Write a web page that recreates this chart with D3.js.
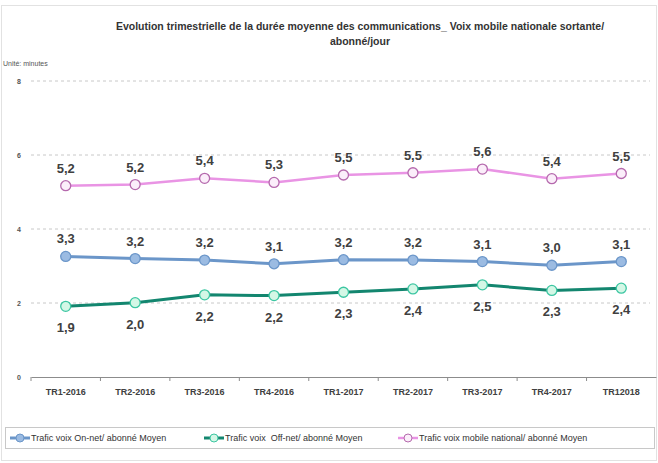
<!doctype html>
<html lang="fr">
<head>
<meta charset="utf-8">
<title>Durée moyenne des communications</title>
<style>
  body { margin: 0; background: #fff; font-family: "Liberation Sans", Arial, sans-serif; }
  .grid line { stroke: #c8c8c8; stroke-dasharray: 3,3; }
  .lbl { font-weight: bold; font-size: 13px; fill: #404040; text-anchor: middle; }
  text { white-space: pre; }
</style>
</head>
<body>
<svg id="chart" width="658" height="463"></svg>
<script src="https://d3js.org/d3.v7.min.js"></script>
<script>
var quarters = ["TR1-2016", "TR2-2016", "TR3-2016", "TR4-2016", "TR1-2017", "TR2-2017", "TR3-2017", "TR4-2017", "TR12018"];
var onNet    = [3.26, 3.20, 3.16, 3.06, 3.17, 3.16, 3.12, 3.02, 3.12];
var offNet   = [1.91, 2.01, 2.22, 2.20, 2.29, 2.38, 2.49, 2.34, 2.40];
var national = [5.17, 5.20, 5.37, 5.26, 5.46, 5.52, 5.62, 5.36, 5.50];
var yTicks   = [0, 2, 4, 6, 8];

var series = [
  { name: "Trafic voix On-net/ abonné Moyen", values: onNet, line: "#6b96c9", fill: "#9bbbe2", stroke: "#6b96c9", width: 3, pos: "above" },
  { name: "Trafic voix  Off-net/ abonné Moyen", values: offNet, line: "#13866f", fill: "#d4f7e6", stroke: "#3cc6a2", width: 3, pos: "below" },
  { name: "Trafic voix mobile national/ abonné Moyen", values: national, line: "#e994e4", fill: "#fbeefa", stroke: "#b569ad", width: 2.5, pos: "above" }
];

var svg = d3.select("#chart");
var plotLeft = 31, plotRight = 656, plotTop = 81, plotBottom = 377;

// light frame round the chart
svg.append("rect").attr("x", 1.5).attr("y", 5.5).attr("width", 655).attr("height", 455)
   .attr("fill", "none").attr("stroke", "#e2e2e2");

var x = d3.scaleBand().domain(quarters).range([plotLeft, plotRight]);
var y = d3.scaleLinear().domain([0, 8]).range([plotBottom, plotTop]);

// title
svg.append("text").attr("x", 360).attr("y", 30).attr("text-anchor", "middle")
   .attr("font-size", "10.5px").attr("font-weight", "bold").attr("fill", "#333")
   .text("Evolution trimestrielle de la durée moyenne des communications_ Voix mobile nationale sortante/");
svg.append("text").attr("x", 360).attr("y", 45).attr("text-anchor", "middle")
   .attr("font-size", "10.5px").attr("font-weight", "bold").attr("fill", "#333")
   .text("abonné/jour");
svg.append("text").attr("x", 3).attr("y", 66).attr("font-size", "7px").attr("fill", "#555")
   .text("Unité: minutes");

// gridlines
svg.append("g").attr("class", "grid")
   .selectAll("line").data(yTicks.filter(function(d) { return d > 0; })).enter()
   .append("line")
   .attr("x1", plotLeft).attr("x2", plotRight - 6)
   .attr("y1", function(d) { return y(d); }).attr("y2", function(d) { return y(d); });

// y axis labels
var yAxis = svg.append("g").attr("transform", "translate(" + (plotLeft - 10) + ",0)")
   .call(d3.axisLeft(y).tickValues(yTicks).tickSize(0).tickPadding(0));
yAxis.select(".domain").remove();
yAxis.selectAll("text").attr("font-size", "7px").attr("font-weight", "bold").attr("fill", "#555")
   .attr("font-family", "Liberation Sans, Arial, sans-serif");

// x axis
var xAxis = svg.append("g").attr("transform", "translate(0," + plotBottom + ")")
   .call(d3.axisBottom(x).tickSize(0).tickPadding(12));
xAxis.select(".domain").attr("stroke", "#8c8c8c").attr("stroke-width", 1.2);
xAxis.selectAll("text").attr("font-size", "9px").attr("font-weight", "bold").attr("fill", "#404040")
   .attr("font-family", "Liberation Sans, Arial, sans-serif");
svg.append("g").selectAll("line").data(quarters).enter().append("line")
   .attr("x1", function(d) { return x(d); }).attr("x2", function(d) { return x(d); })
   .attr("y1", plotBottom).attr("y2", plotBottom + 4).attr("stroke", "#8c8c8c");

// series
var cx = function(i) { return x(quarters[i]) + x.bandwidth() / 2; };
var line = d3.line().x(function(d, i) { return cx(i); }).y(function(d) { return y(d); });

series.forEach(function(s) {
  var g = svg.append("g");
  g.append("path").datum(s.values).attr("d", line)
   .attr("fill", "none").attr("stroke", s.line).attr("stroke-width", s.width);
  g.selectAll("circle").data(s.values).enter().append("circle")
   .attr("cx", function(d, i) { return cx(i); }).attr("cy", function(d) { return y(d); })
   .attr("r", 5).attr("fill", s.fill).attr("stroke", s.stroke).attr("stroke-width", 1.3);
  g.selectAll("text").data(s.values).enter().append("text").attr("class", "lbl")
   .attr("x", function(d, i) { return cx(i); })
   .attr("y", function(d) { return s.pos == "above" ? y(d) - 13 : y(d) + 26; })
   .text(function(d) { return d.toFixed(1).replace(".", ","); });
});

// legend
svg.append("rect").attr("x", 5.5).attr("y", 427.5).attr("width", 649).attr("height", 21)
   .attr("fill", "#fff").attr("stroke", "#c8c8c8");
var legX = [10, 204, 398];
series.forEach(function(s, i) {
  var g = svg.append("g").attr("transform", "translate(" + legX[i] + ",438)");
  g.append("line").attr("x1", 0).attr("x2", 20).attr("stroke", s.line).attr("stroke-width", s.width);
  g.append("circle").attr("cx", 10).attr("r", 4).attr("fill", s.fill).attr("stroke", s.stroke);
  g.append("text").attr("x", 21).attr("y", 3).attr("font-size", "9px").attr("fill", "#333")
   .text(s.name);
});
</script>
</body>
</html>
